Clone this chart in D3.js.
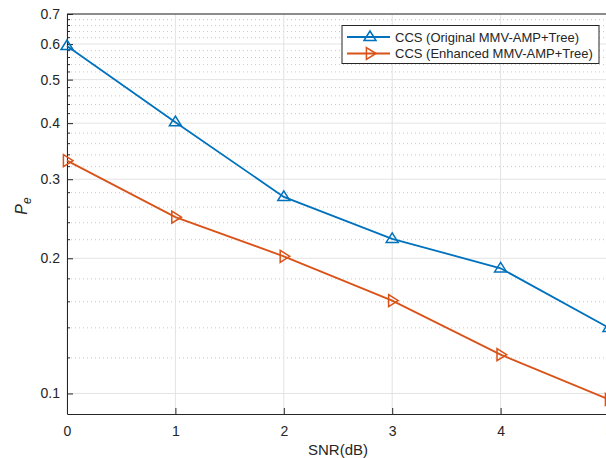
<!DOCTYPE html>
<html>
<head>
<meta charset="utf-8">
<script src="https://cdn.jsdelivr.net/npm/d3@7"></script>
<style>
  body { margin: 0; background: #fff; }
  text { font-family: "Liberation Sans", Arial, sans-serif; fill: #262626; }
</style>
</head>
<body>
<svg id="chart"></svg>
<script>
const width = 606;
const height = 458;
const margin = { top: 14, right: -3, bottom: 44, left: 67 };

const snr = [0, 1, 2, 3, 4, 5];
const original = [0.594, 0.402, 0.274, 0.221, 0.19, 0.14];
const enhanced = [0.33, 0.247, 0.202, 0.161, 0.122, 0.097];
const seriesNames = ["CCS (Original MMV-AMP+Tree)", "CCS (Enhanced MMV-AMP+Tree)"];
const yTicks = [0.1, 0.2, 0.3, 0.4, 0.5, 0.6, 0.7];
const yMinor = d3.range(0.12, 0.7, 0.02).filter(v => Math.abs(v * 10 - Math.round(v * 10)) > 0.01);

const colors = ["#0072BD", "#D95319"];

const svg = d3.select("#chart")
    .attr("width", width)
    .attr("height", height);

const x = d3.scaleLinear()
    .domain([0, 5])
    .range([margin.left, width - margin.right]);

const y = d3.scaleLog()
    .domain([0.09, 0.7])
    .range([height - margin.bottom, margin.top]);

// grid
svg.append("g")
    .selectAll("line")
    .data(yMinor)
    .join("line")
    .attr("x1", margin.left)
    .attr("x2", width - margin.right)
    .attr("y1", d => y(d))
    .attr("y2", d => y(d))
    .attr("stroke", "#c8c8c8")
    .attr("stroke-width", 1)
    .attr("stroke-dasharray", "1,3");

svg.append("g")
    .selectAll("line")
    .data(yTicks)
    .join("line")
    .attr("x1", margin.left)
    .attr("x2", width - margin.right)
    .attr("y1", d => y(d))
    .attr("y2", d => y(d))
    .attr("stroke", "#e3e3e3");

svg.append("g")
    .selectAll("line")
    .data(snr)
    .join("line")
    .attr("x1", d => x(d))
    .attr("x2", d => x(d))
    .attr("y1", margin.top)
    .attr("y2", height - margin.bottom)
    .attr("stroke", "#e3e3e3");

// axes
const xAxis = d3.axisBottom(x)
    .tickValues(snr)
    .tickFormat(d3.format("d"))
    .tickSizeInner(-6)
    .tickSizeOuter(0)
    .tickPadding(12);

const yAxis = d3.axisLeft(y)
    .tickValues(yTicks)
    .tickFormat(d3.format(".1f"))
    .tickSizeInner(-6)
    .tickSizeOuter(0)
    .tickPadding(7);

const gx = svg.append("g")
    .attr("transform", `translate(0, ${height - margin.bottom})`)
    .call(xAxis);

const gy = svg.append("g")
    .attr("transform", `translate(${margin.left}, 0)`)
    .call(yAxis);

// minor ticks on y
gy.selectAll(".minor")
    .data(yMinor)
    .join("line")
    .attr("class", "minor")
    .attr("x1", 0)
    .attr("x2", 3)
    .attr("y1", d => y(d))
    .attr("y2", d => y(d))
    .attr("stroke", "#262626");

[gx, gy].forEach(g => {
    g.select(".domain").attr("stroke", "#262626").attr("stroke-width", 1);
    g.selectAll(".tick line").attr("stroke", "#262626");
    g.selectAll(".tick text").style("font-size", "14px").attr("fill", "#262626");
});

// top box line
svg.append("line")
    .attr("x1", margin.left)
    .attr("x2", width - margin.right)
    .attr("y1", margin.top)
    .attr("y2", margin.top)
    .attr("stroke", "#262626");

// labels
svg.append("text")
    .attr("x", x(2.5))
    .attr("y", 455)
    .attr("text-anchor", "middle")
    .style("font-size", "15px")
    .text("SNR(dB)");

const yl = svg.append("text")
    .attr("transform", "translate(27, 206) rotate(-90)")
    .attr("text-anchor", "middle")
    .style("font-size", "16px");
yl.append("tspan").style("font-style", "italic").text("P");
yl.append("tspan").attr("dy", 4).style("font-size", "12px").style("font-style", "italic").text("e");

// lines
const line = d3.line()
    .x((d, i) => x(snr[i]))
    .y(d => y(d));

function marker(g, type, color) {
    const s = 6;
    const d = type === "up"
        ? `M0,${-s}L${s},${s * 0.6}L${-s},${s * 0.6}Z`
        : `M${s},0L${-s * 0.6},${-s}L${-s * 0.6},${s}Z`;
    g.append("path")
        .attr("d", d)
        .attr("fill", "none")
        .attr("stroke", color)
        .attr("stroke-width", 1.5);
}

[original, enhanced].forEach((vals, k) => {
    svg.append("path")
        .datum(vals)
        .attr("d", line)
        .attr("fill", "none")
        .attr("stroke", colors[k])
        .attr("stroke-width", 1.8);

    svg.append("g")
        .selectAll("g")
        .data(vals)
        .join("g")
        .attr("transform", (d, i) => `translate(${x(snr[i])}, ${y(d)})`)
        .each(function () {
            marker(d3.select(this), k === 0 ? "up" : "right", colors[k]);
        });
});

// legend
const legend = svg.append("g").attr("transform", "translate(342, 25.5)");
legend.append("rect")
    .attr("width", 257)
    .attr("height", 38)
    .attr("fill", "#fff")
    .attr("stroke", "#262626");

seriesNames.forEach((name, k) => {
    const row = legend.append("g").attr("transform", `translate(0, ${11.5 + k * 16.5})`);
    row.append("line")
        .attr("x1", 5)
        .attr("x2", 48)
        .attr("stroke", colors[k])
        .attr("stroke-width", 1.8);
    const m = row.append("g").attr("transform", "translate(28, 0)");
    marker(m, k === 0 ? "up" : "right", colors[k]);
    row.append("text")
        .attr("x", 53)
        .attr("dy", "0.35em")
        .style("font-size", "13px")
        .text(name);
});
</script>
</body>
</html>
